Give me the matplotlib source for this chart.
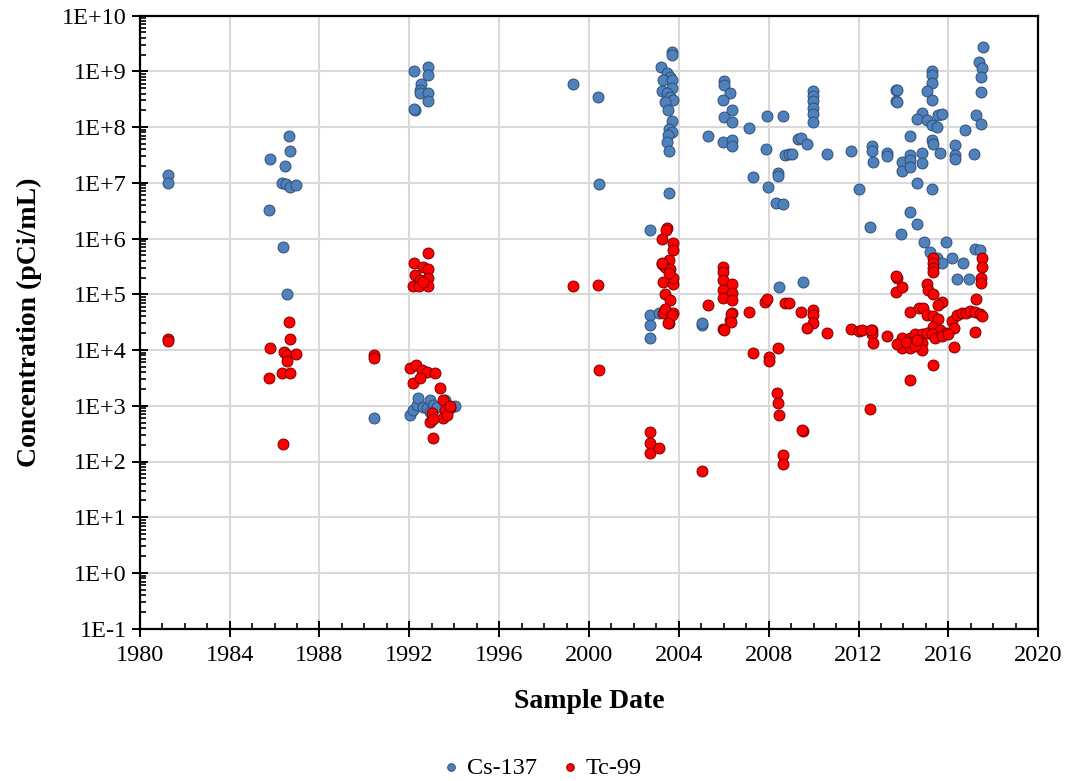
import matplotlib
matplotlib.use("Agg")
import matplotlib.pyplot as plt
import matplotlib.ticker as mticker
import numpy as np

plt.rcParams['font.family'] = ['Liberation Serif', 'DejaVu Serif']

# Cs-137 samples: decimal year, concentration (pCi/mL)
cs_year = [
    1981.25, 1981.25,
    1985.79, 1985.75, 1986.46, 1986.64, 1986.68, 1986.33, 1986.50, 1986.68, 1986.95, 1986.37, 1986.55,
    1990.42,
    1992.20, 1992.83, 1992.83, 1992.52, 1992.47, 1992.47, 1992.83, 1992.83, 1992.25, 1992.20,
    1992.03, 1992.16, 1992.34, 1992.38, 1992.61, 1992.78, 1992.92, 1993.05, 1993.23, 1992.92, 1993.59, 1994.03,
    1999.29, 2000.40, 2000.45,
    2003.70, 2003.70, 2003.21, 2003.47, 2003.61, 2003.30, 2003.70, 2003.25, 2003.70, 2003.47, 2003.61,
    2003.74, 2003.39, 2003.52, 2003.70, 2003.56, 2003.70, 2003.52, 2003.47, 2003.56, 2003.56, 2002.72,
    2002.72, 2002.72, 2002.72, 2003.12, 2005.03, 2005.03,
    2006.01, 2006.01, 2006.28, 2005.97, 2006.37, 2006.01, 2006.37, 2005.30, 2005.97, 2006.37, 2006.37,
    2007.13, 2007.93, 2008.64, 2009.31, 2007.88, 2008.73, 2008.91, 2008.42, 2008.42, 2007.31, 2007.97,
    2008.33, 2008.64, 2008.46,
    2009.98, 2009.98, 2009.98, 2009.98, 2009.98, 2009.98, 2009.44, 2009.71, 2009.04, 2010.60, 2011.67,
    2012.61, 2012.61, 2012.65, 2013.27, 2013.27, 2012.03, 2012.52, 2009.53,
    2017.55, 2017.37, 2017.51, 2017.46, 2017.46, 2017.24, 2017.46, 2016.75, 2017.15,
    2015.28, 2015.28, 2015.28, 2015.06, 2015.28, 2013.67, 2013.72, 2013.67, 2013.72,
    2014.83, 2014.61, 2015.06, 2015.55, 2015.72, 2015.28, 2015.50, 2014.30, 2015.28, 2015.32, 2015.63,
    2016.30, 2016.30, 2016.30, 2013.94, 2013.94, 2014.30, 2014.30, 2014.30, 2014.83, 2014.83, 2014.61,
    2015.28, 2014.30, 2014.61, 2013.90,
    2014.92, 2015.90, 2015.19, 2015.50, 2015.72, 2016.17, 2016.66, 2016.39, 2016.93, 2017.19, 2017.42,
]
cs_conc = [
    1.4e7, 1.0e7,
    2.7e7, 3.3e6, 2.0e7, 6.8e7, 3.8e7, 1.0e7, 9.4e6, 8.5e6, 9.3e6, 7.0e5, 1.0e5,
    600,
    1.0e9, 1.2e9, 8.7e8, 6.0e8, 4.7e8, 4.1e8, 4.1e8, 2.9e8, 2.0e8, 2.1e8,
    690, 850, 1050, 1400, 950, 900, 1250, 1050, 950, 780, 1250, 1000,
    6.0e8, 3.5e8, 9.5e6,
    2.2e9, 2.0e9, 1.2e9, 9.5e8, 7.9e8, 7.0e8, 7.0e8, 4.4e8, 5.0e8, 4.1e8, 3.4e8,
    3.1e8, 2.8e8, 2.0e8, 1.3e8, 9.3e7, 8.3e7, 7.3e7, 5.3e7, 3.8e7, 6.6e6, 1.4e6,
    4.3e4, 2.8e4, 1.66e4, 4.7e4, 2.8e4, 3.0e4,
    6.6e8, 5.8e8, 4.1e8, 3.1e8, 2.0e8, 1.5e8, 1.25e8, 6.8e7, 5.5e7, 5.9e7, 4.6e7,
    9.8e7, 1.55e8, 1.6e8, 6.2e7, 4.1e7, 3.1e7, 3.3e7, 1.5e7, 1.3e7, 1.26e7, 8.5e6,
    4.4e6, 4.2e6, 1.35e5,
    4.4e8, 3.6e8, 2.9e8, 2.2e8, 1.7e8, 1.25e8, 6.5e7, 5.0e7, 3.3e7, 3.3e7, 3.8e7,
    4.5e7, 3.7e7, 2.4e7, 3.5e7, 3.0e7, 7.6e6, 1.6e6, 1.66e5,
    2.7e9, 1.45e9, 1.17e9, 7.8e8, 4.2e8, 1.66e8, 1.15e8, 9.0e7, 3.3e7,
    1.03e9, 8.7e8, 6.3e8, 4.5e8, 3.1e8, 4.7e8, 4.7e8, 2.9e8, 2.8e8,
    1.8e8, 1.4e8, 1.35e8, 1.66e8, 1.75e8, 1.1e8, 1.0e8, 6.8e7, 5.9e7, 5.0e7, 3.5e7,
    4.7e7, 3.2e7, 2.7e7, 2.4e7, 1.6e7, 3.2e7, 2.6e7, 1.95e7, 3.5e7, 2.3e7, 1.0e7,
    7.6e6, 3.0e6, 1.8e6, 1.2e6,
    8.7e5, 8.7e5, 5.7e5, 4.5e5, 3.7e5, 4.5e5, 3.7e5, 1.9e5, 1.9e5, 6.6e5, 6.3e5,
]

# Tc-99 samples
tc_year = [
    1981.25, 1981.25,
    1986.64, 1986.68, 1985.79, 1986.41, 1986.55, 1986.95, 1986.55, 1985.75, 1986.33, 1986.68, 1986.37,
    1990.42, 1990.42,
    1992.83, 1992.20, 1992.61, 1992.83, 1992.25, 1992.83, 1992.47, 1992.16, 1992.43, 1992.83, 1992.61,
    1992.03, 1992.29, 1992.56, 1992.78, 1993.14, 1992.16, 1992.47, 1993.36, 1993.50, 1993.81, 1993.59,
    1993.01, 1992.92, 1993.50, 1993.05, 1993.67, 1993.81, 1993.05,
    1999.29, 2000.40, 2000.45,
    2003.47, 2003.43, 2003.25, 2003.74, 2003.74, 2003.56, 2003.25, 2003.39, 2003.61, 2003.30, 2003.74,
    2003.39, 2003.61, 2003.30, 2003.74, 2003.56, 2003.25, 2003.74, 2003.39, 2003.70, 2003.52, 2003.56,
    2002.72, 2002.72, 2002.72, 2003.12, 2005.03,
    2005.97, 2005.97, 2005.97, 2006.37, 2005.97, 2006.37, 2005.97, 2006.37, 2005.30, 2006.37, 2006.28,
    2005.97, 2006.33, 2006.33, 2006.01,
    2007.13, 2007.84, 2007.93, 2008.73, 2008.91, 2007.31, 2008.02, 2008.02, 2008.42, 2008.37, 2008.42,
    2008.46, 2008.64, 2008.64,
    2009.44, 2009.98, 2009.98, 2009.98, 2009.71, 2010.60, 2011.67, 2012.03, 2012.61, 2012.61, 2012.65,
    2013.27, 2009.53, 2012.52, 2009.49, 2012.16, 2012.56,
    2015.32, 2015.32, 2015.32, 2015.32, 2017.51, 2017.51, 2017.46, 2017.46, 2013.72, 2013.67, 2013.67,
    2013.94, 2015.06, 2015.10, 2015.32, 2015.72, 2015.55, 2017.24, 2014.30, 2014.70, 2014.88, 2015.06,
    2015.32, 2015.55, 2016.17, 2016.39, 2016.61, 2016.79, 2016.97, 2017.19, 2017.42, 2017.51, 2015.32,
    2015.63, 2015.90, 2016.26, 2016.26, 2017.19, 2013.94, 2013.94, 2014.30, 2014.30, 2014.52, 2014.83,
    2014.83, 2014.83, 2015.06, 2015.28, 2015.41, 2015.72, 2015.99, 2015.32, 2014.30,
    2013.72, 2014.10, 2014.50, 2014.61,
]
tc_conc = [
    1.6e4, 1.45e4,
    3.2e4, 1.6e4, 1.1e4, 9.3e3, 8.2e3, 8.5e3, 6.3e3, 3.2e3, 3.9e3, 3.9e3, 210,
    8.0e3, 7.3e3,
    5.5e5, 3.7e5, 3.1e5, 2.8e5, 2.2e5, 2.0e5, 1.8e5, 1.4e5, 1.4e5, 1.4e5, 1.65e5,
    4.8e3, 5.4e3, 4.4e3, 4.1e3, 3.9e3, 2.6e3, 3.2e3, 2.1e3, 1.26e3, 910, 850,
    740, 510, 600, 260, 690, 1000, 580,
    1.4e5, 1.45e5, 4.3e3,
    1.55e6, 1.4e6, 1.0e6, 8.3e5, 6.3e5, 4.2e5, 3.5e5, 3.1e5, 2.8e5, 1.66e5, 1.5e5,
    1.0e5, 8.0e4, 4.7e4, 4.7e4, 3.1e4, 3.6e5, 2.0e5, 5.5e4, 4.3e4, 3.0e4, 2.4e5,
    340, 215, 140, 175, 68,
    3.1e5, 2.5e5, 1.8e5, 1.5e5, 1.2e5, 1.07e5, 8.7e4, 8.0e4, 6.5e4, 4.7e4, 3.5e4,
    2.4e4, 4.5e4, 3.2e4, 2.3e4,
    4.9e4, 7.4e4, 8.3e4, 7.0e4, 7.0e4, 8.9e3, 7.6e3, 6.3e3, 1.1e4, 1.7e3, 1.1e3,
    690, 130, 90,
    4.9e4, 5.3e4, 4.3e4, 3.1e4, 2.5e4, 2.0e4, 2.4e4, 2.2e4, 2.3e4, 1.9e4, 1.35e4,
    1.75e4, 355, 870, 370, 2.3e4, 2.3e4,
    4.4e5, 3.7e5, 3.0e5, 2.5e5, 4.4e5, 3.1e5, 2.0e5, 1.6e5, 2.0e5, 2.1e5, 1.1e5,
    1.35e5, 1.5e5, 1.2e5, 1.0e5, 7.4e4, 6.3e4, 8.3e4, 4.9e4, 5.7e4, 5.7e4, 4.3e4,
    4.0e4, 3.6e4, 3.3e4, 4.3e4, 4.7e4, 4.7e4, 5.0e4, 4.9e4, 4.5e4, 4.0e4, 2.6e4,
    2.3e4, 2.0e4, 2.5e4, 1.15e4, 2.1e4, 1.66e4, 1.1e4, 1.66e4, 1.1e4, 1.9e4, 1.9e4,
    1.35e4, 1.0e4, 2.0e4, 1.9e4, 1.66e4, 1.75e4, 1.9e4, 5.4e3, 2.9e3,
    1.3e4, 1.4e4, 1.2e4, 1.5e4,
]

fig = plt.figure(figsize=(10.67, 7.81), dpi=100)
ax = fig.add_axes([0.131, 0.195, 0.842, 0.785])

ax.scatter(cs_year, cs_conc, s=62, c='#4F81BD', edgecolors='#2F4F75',
           linewidths=0.7, label='Cs-137', zorder=3)
ax.scatter(tc_year, tc_conc, s=62, c='#FF0000', edgecolors='#7A0000',
           linewidths=0.7, label='Tc-99', zorder=3)

ax.set_yscale('log')
ax.set_ylim(1e-1, 1e10)
ax.set_xlim(1980, 2020)

ax.xaxis.set_major_locator(mticker.MultipleLocator(4))
ax.xaxis.set_minor_locator(mticker.MultipleLocator(1))
ax.yaxis.set_major_locator(mticker.LogLocator(base=10, numticks=20))
ax.yaxis.set_minor_locator(mticker.LogLocator(base=10, subs=np.arange(2, 10), numticks=20))
ax.yaxis.set_minor_formatter(mticker.NullFormatter())
ax.yaxis.set_major_formatter(mticker.FuncFormatter(
    lambda v, p: "1E%+d" % int(round(np.log10(v)))))

ax.grid(True, which='major', color='#D9D9D9', linewidth=1.5, zorder=0)
ax.set_axisbelow(True)

for sp in ax.spines.values():
    sp.set_color('black')
    sp.set_linewidth(1.6)

ax.tick_params(axis='both', which='major', direction='inout', length=11,
               width=1.4, labelsize=17.5, colors='black')
ax.tick_params(axis='both', which='minor', direction='in', length=4.5, width=1.2)
ax.tick_params(axis='x', which='major', pad=6)
ax.tick_params(axis='y', which='major', pad=4)

ax.set_xlabel('Sample Date', fontsize=20, fontweight='bold', labelpad=17)
ax.set_ylabel('Concentration (pCi/mL)', fontsize=20, fontweight='bold', labelpad=14)

fig.legend(loc='lower center', bbox_to_anchor=(0.508, -0.025), ncol=2, frameon=False,
           fontsize=17.5, markerscale=0.7, handlelength=0.7, handletextpad=0.3,
           columnspacing=1.0)

fig.savefig('out.png', dpi=100)
